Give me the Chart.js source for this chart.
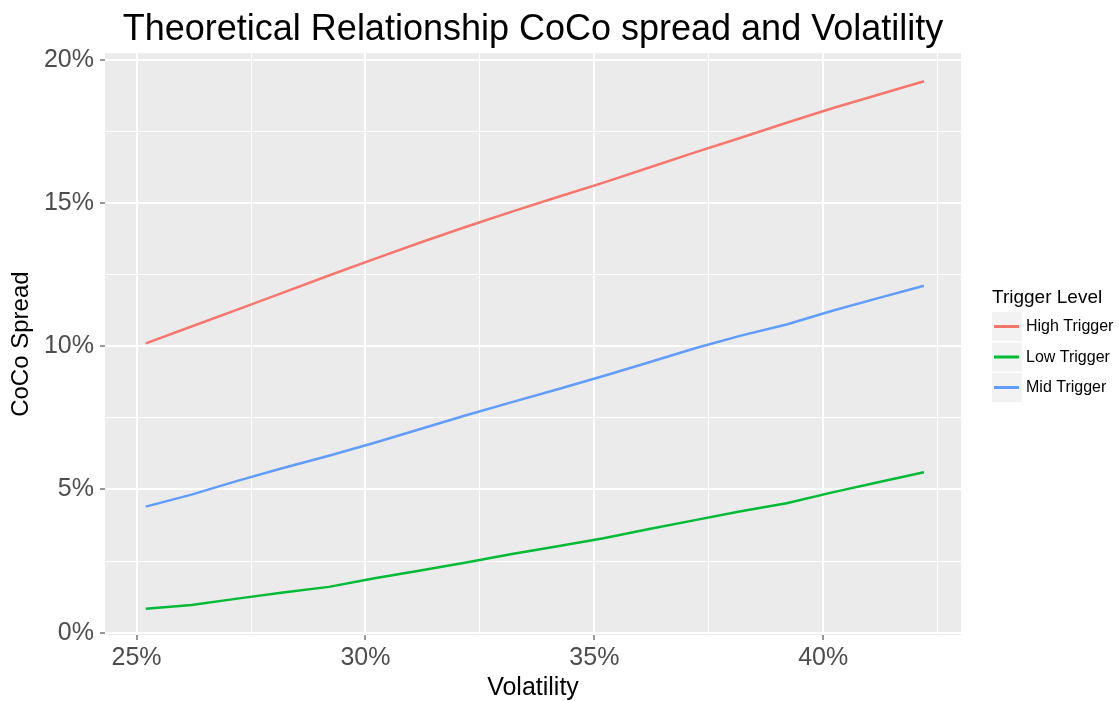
<!DOCTYPE html>
<html>
<head>
<meta charset="utf-8">
<script src="https://cdn.jsdelivr.net/npm/chart.js@4.4.0/dist/chart.umd.min.js"></script>
<style>
  html, body { margin: 0; padding: 0; background: #fff; }
  #wrap { width: 1119px; height: 701px; }
</style>
</head>
<body>
<div id="wrap"><canvas id="myChart" width="1119" height="701"></canvas></div>
<script>
// volatility (%) on the x axis
const volatility = [25.2, 26.2, 27.2, 28.2, 29.2, 30.2, 31.2, 32.2, 33.2, 34.2, 35.2, 36.2, 37.2, 38.2, 39.2, 40.2, 41.2, 42.2];

// CoCo spread (%) for each trigger level
const highTrigger = [10.10, 10.69, 11.28, 11.87, 12.47, 13.05, 13.62, 14.17, 14.70, 15.21, 15.71, 16.24, 16.77, 17.28, 17.80, 18.31, 18.78, 19.25];
const lowTrigger = [0.84, 0.97, 1.19, 1.40, 1.60, 1.90, 2.17, 2.45, 2.75, 3.02, 3.30, 3.62, 3.93, 4.24, 4.52, 4.90, 5.25, 5.60];
const midTrigger = [4.40, 4.82, 5.30, 5.75, 6.18, 6.63, 7.11, 7.59, 8.05, 8.50, 8.96, 9.44, 9.93, 10.37, 10.76, 11.24, 11.68, 12.11];

const seriesNames = ['High Trigger', 'Low Trigger', 'Mid Trigger'];

// axis breaks
const xMajor = [25, 30, 35, 40];
const xMinor = [27.5, 32.5, 37.5, 42.5];
const yMajor = [0, 5, 10, 15, 20];
const yMinor = [2.5, 7.5, 12.5, 17.5];

const toPoints = (ys) => ys.map((y, i) => ({ x: volatility[i], y: y }));

const panelBg = {
	id: 'panelBg',
	beforeDraw(chart) {
		const { ctx, chartArea: a } = chart;
		ctx.save();
		ctx.fillStyle = '#EBEBEB';
		ctx.fillRect(a.left, a.top, a.right - a.left, a.bottom - a.top);
		ctx.restore();
	}
};

// ggplot-like legend on the right
const ggLegend = {
	id: 'ggLegend',
	afterDraw(chart) {
		const ctx = chart.ctx;
		const x0 = 992;
		ctx.save();
		ctx.fillStyle = '#000';
		ctx.textBaseline = 'middle';
		ctx.textAlign = 'left';
		ctx.font = '19px "Liberation Sans", Arial, sans-serif';
		ctx.fillText('Trigger Level', x0, 298);
		ctx.font = '16px "Liberation Sans", Arial, sans-serif';
		chart.data.datasets.forEach((ds, i) => {
			const top = 312 + i * 30.5;
			ctx.fillStyle = '#F2F2F2';
			ctx.fillRect(x0, top, 30, 29);
			ctx.strokeStyle = ds.borderColor;
			ctx.lineWidth = 3;
			ctx.beginPath();
			ctx.moveTo(x0 + 2, top + 14.5);
			ctx.lineTo(x0 + 27, top + 14.5);
			ctx.stroke();
			ctx.fillStyle = '#000';
			ctx.fillText(ds.label, x0 + 34, top + 15);
		});
		ctx.restore();
	}
};

const gridWidth = (major) => (ctx) => major.includes(ctx.tick.value) ? 2 : 1;
const tickCol = (major) => (ctx) => major.includes(ctx.tick.value) ? '#333333' : 'rgba(0,0,0,0)';

const ctx = document.getElementById('myChart');

const myChart = new Chart(ctx, {
	type: 'line',
	data: {
		datasets: [{
			label: seriesNames[0],
			data: toPoints(highTrigger),
			borderColor: '#F8766D'
		}, {
			label: seriesNames[1],
			data: toPoints(lowTrigger),
			borderColor: '#00BA38'
		}, {
			label: seriesNames[2],
			data: toPoints(midTrigger),
			borderColor: '#619CFF'
		}]
	},
	options: {
		responsive: false,
		animation: false,
		layout: { padding: { top: 0, right: 158, bottom: 0, left: 0 } },
		elements: {
			point: { radius: 0 },
			line: { borderWidth: 2.5, tension: 0 }
		},
		plugins: {
			legend: { display: false },
			tooltip: { enabled: false },
			title: {
				display: true,
				fullSize: false,
				text: 'Theoretical Relationship CoCo spread and Volatility',
				color: '#000',
				font: { family: '"Liberation Sans", Arial, sans-serif', size: 36, weight: 'normal', lineHeight: 1.2 },
				padding: { top: 8, bottom: 2 }
			}
		},
		scales: {
			x: {
				type: 'linear',
				min: 24.31,
				max: 43.01,
				afterFit(scale) { scale.height = 66; },
				afterBuildTicks(scale) {
					scale.ticks = [...xMajor, ...xMinor].sort((a, b) => a - b).map(v => ({ value: v }));
				},
				border: { display: false },
				grid: {
					color: '#FFFFFF',
					lineWidth: gridWidth(xMajor),
					tickColor: tickCol(xMajor),
					tickLength: 5,
					tickWidth: 1
				},
				ticks: {
					autoSkip: false,
					maxRotation: 0,
					includeBounds: false,
					padding: 3,
					color: '#4D4D4D',
					font: { family: '"Liberation Sans", Arial, sans-serif', size: 25 },
					callback: (v) => xMajor.includes(v) ? v + '%' : ''
				},
				title: {
					display: true,
					text: 'Volatility',
					color: '#000',
					font: { family: '"Liberation Sans", Arial, sans-serif', size: 25, lineHeight: 1 },
					padding: 0
				}
			},
			y: {
				type: 'linear',
				min: -0.08,
				max: 20.23,
				afterFit(scale) { scale.width = 105; },
				afterBuildTicks(scale) {
					scale.ticks = [...yMajor, ...yMinor].sort((a, b) => a - b).map(v => ({ value: v }));
				},
				border: { display: false },
				grid: {
					color: '#FFFFFF',
					lineWidth: gridWidth(yMajor),
					tickColor: tickCol(yMajor),
					tickLength: 5,
					tickWidth: 1
				},
				ticks: {
					autoSkip: false,
					includeBounds: false,
					padding: 6,
					color: '#4D4D4D',
					font: { family: '"Liberation Sans", Arial, sans-serif', size: 25 },
					callback: (v) => yMajor.includes(v) ? v + '%' : ''
				},
				title: {
					display: true,
					text: 'CoCo Spread',
					color: '#000',
					font: { family: '"Liberation Sans", Arial, sans-serif', size: 24, lineHeight: 1.2 },
					padding: { top: 7, bottom: 0 }
				}
			}
		}
	},
	plugins: [panelBg, ggLegend]
});
</script>
</body>
</html>
